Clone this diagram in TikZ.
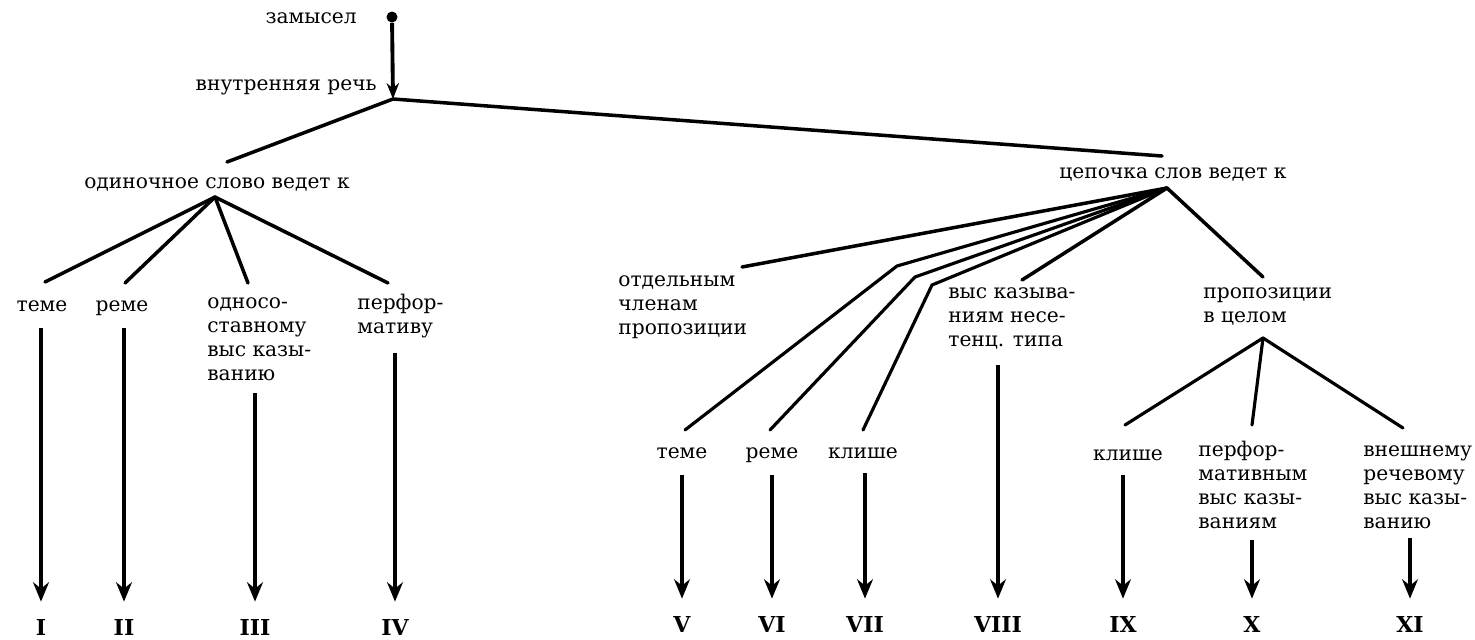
\documentclass[tikz,border=0pt]{standalone}
\usepackage{fontspec}
\setmainfont{DejaVu Serif}
\usetikzlibrary{arrows.meta}
\tikzset{
    branch/.style={line width=2pt, line cap=round}, % ветви дерева
    down/.style={line width=2.6pt, -{Stealth[length=11pt, width=9pt]}, shorten >=3.4mm}, % стрелки к номерам
    word/.style={inner sep=0pt, font=\fontsize{11.5}{13.6}\selectfont, align=left},
    roman/.style={inner sep=0pt, font=\bfseries\fontsize{12.5}{14}\selectfont},
}

\begin{document}
\begin{tikzpicture}[x=0.2mm, y=-0.2mm]
    \useasboundingbox (0,0) rectangle (1475,640);

    % Верх
    \node[circle, fill, inner sep=0pt, minimum size=2.2mm] (dot) at (392,17) {};
    \node[word, anchor=base east] (zamysel) at (357,23) {замысел};
    \node[word, anchor=base east] (rech) at (377,90) {внутренняя речь};
    \coordinate (root) at (393,99);
    \draw[line width=2.2pt, -{Stealth[length=9pt, width=7pt]}] (dot) -- (root);

    % Уровень 1
    \node[word, anchor=base] (odin) at (217,188) {одиночное слово ведет к};
    \node[word, anchor=base] (cep) at (1173,178) {цепочка слов ведет к};
    \coordinate (jodin) at (215,197);
    \coordinate (jcep) at (1167,188);
    \coordinate (eodin) at (227,162);
    \coordinate (ecep) at (1162,156);
    \draw[branch] (eodin) -- (root) -- (ecep);

    % Одиночное слово
    \node[word, anchor=base] (teme1) at (42,311) {теме};
    \node[word, anchor=base] (reme1) at (122,311) {реме};
    \node[word, anchor=base west] (odnos) at (207,380) {односо-\\ставному\\выс казы-\\ванию};
    \node[word, anchor=base west] (perf1) at (357,333) {перфор-\\мативу};
    \coordinate (e1) at (45,282);
    \coordinate (e2) at (125,283);
    \coordinate (e3) at (248,283);
    \coordinate (e4) at (388,283);
    \foreach \e in {e1,e2,e3,e4}
        \draw[branch] (jodin) -- (\e);

    % Цепочка слов
    \node[word, anchor=base west] (otd) at (618,334) {отдельным\\членам\\пропозиции};
    \node[word, anchor=base west] (vysk) at (948,346) {выс казыва-\\ниям несе-\\тенц. типа};
    \node[word, anchor=base west] (prop) at (1203,322) {пропозиции\\в целом};
    \coordinate (e5) at (742,267);
    \coordinate (e6) at (1022,280);
    \coordinate (e7) at (1263,277);
    \draw[branch] (jcep) -- (e5);
    \draw[branch] (jcep) -- (e6);
    \draw[branch] (jcep) -- (e7);

    % Члены пропозиции
    \node[word, anchor=base] (teme2) at (682,458) {теме};
    \node[word, anchor=base] (reme2) at (772,458) {реме};
    \node[word, anchor=base] (klish1) at (863,458) {клише};
    \draw[branch, line width=1.8pt] (jcep) -- (897,266) -- (685,430);
    \draw[branch, line width=1.8pt] (jcep) -- (915,277) -- (770,430);
    \draw[branch, line width=1.8pt] (jcep) -- (932,285) -- (863,430);

    % Пропозиции в целом
    \coordinate (jprop) at (1263,338);
    \node[word, anchor=base] (klish2) at (1128,460) {клише};
    \node[word, anchor=base west] (perf2) at (1198,528) {перфор-\\мативным\\выс казы-\\ваниям};
    \node[word, anchor=base west] (vnesh) at (1363,528) {внешнему\\речевому\\выс казы-\\ванию};
    \coordinate (e8) at (1125,425);
    \coordinate (e9) at (1252,425);
    \coordinate (e10) at (1403,428);
    \foreach \e in {e8,e9,e10}
        \draw[branch, line width=1.8pt] (jprop) -- (\e);

    % Номера
    \foreach \n/\x/\y/\t in {n1/41/635/I, n2/124/635/II, n3/255/635/III, n4/395/635/IV,
                             n5/682/632/V, n6/772/632/VI, n7/865/632/VII, n8/998/632/VIII,
                             n9/1123/632/IX, n10/1252/632/X, n11/1410/632/XI}
        \node[roman, anchor=base] (\n) at (\x,\y) {\t};

    % Стрелки
    \coordinate (s1) at (41,328);
    \coordinate (s2) at (124,328);
    \coordinate (s3) at (255,393);
    \coordinate (s4) at (395,353);
    \coordinate (s5) at (682,475);
    \coordinate (s6) at (772,475);
    \coordinate (s7) at (865,473);
    \coordinate (s8) at (998,365);
    \coordinate (s9) at (1123,475);
    \coordinate (s10) at (1252,540);
    \coordinate (s11) at (1410,538);
    \foreach \i in {1,...,11}
        \draw[down] (s\i) -- (n\i);
\end{tikzpicture}
\end{document}
